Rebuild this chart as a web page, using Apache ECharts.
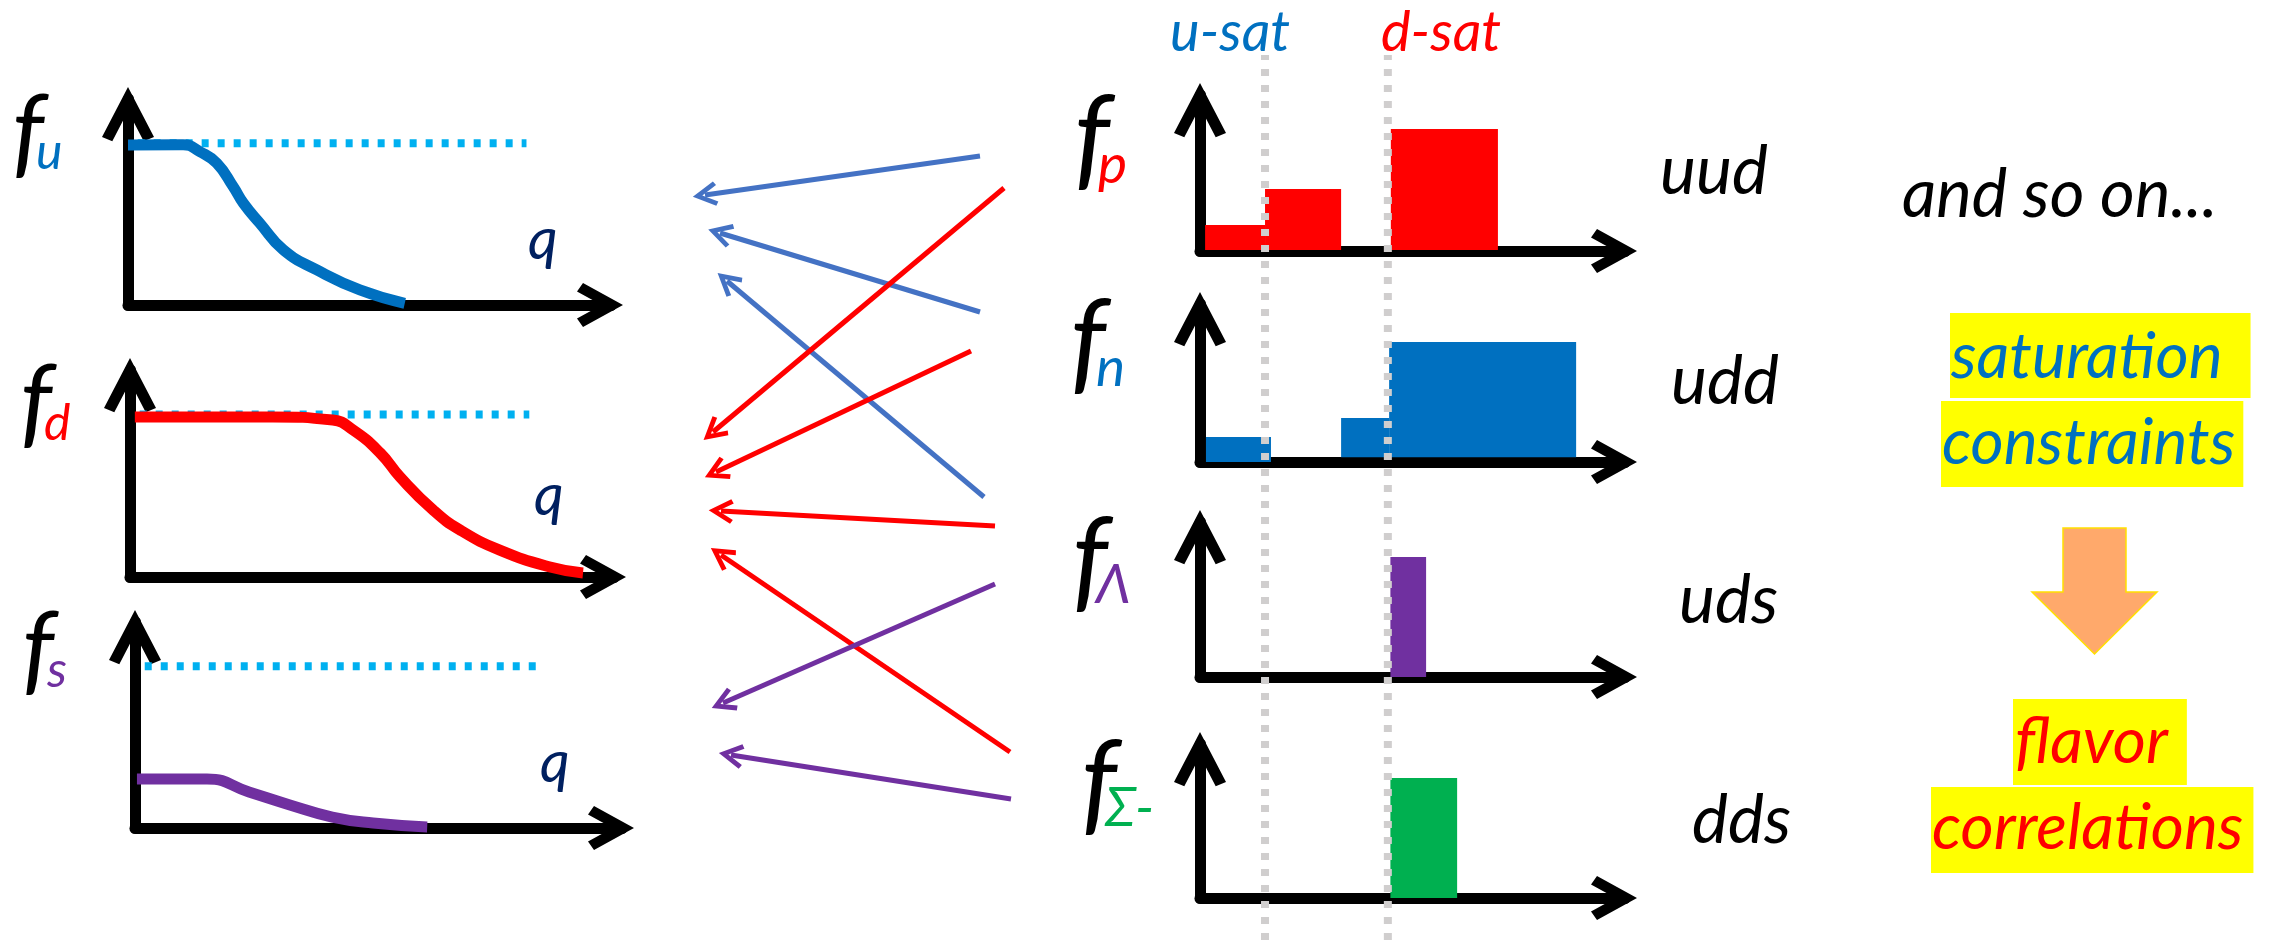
<!DOCTYPE html>
<html>
<head>
<meta charset="utf-8">
<script src="https://cdn.jsdelivr.net/npm/echarts@6/dist/echarts.min.js"></script>
<style>
html, body { margin: 0; padding: 0; background: #fff; }
#chart { width: 2272px; height: 940px; }
</style>
</head>
<body>
<div id="chart"></div>
<script>
// ---- data ----
// left panels: f(q) curves, q in 0..10, f in 0..1 of the panel height
var curveU = [[0, 0.777], [1.14, 0.778], [1.49, 0.744], [1.84, 0.688], [2.18, 0.574], [2.39, 0.494], [2.73, 0.397], [3.22, 0.267], [3.91, 0.17], [4.8, 0.073], [5.73, 0.008]];
var curveD = [[0.1, 0.773], [2.95, 0.773], [4.19, 0.758], [4.61, 0.71], [5.17, 0.599], [5.58, 0.483], [6.26, 0.324], [6.82, 0.227], [7.64, 0.13], [8.68, 0.048], [9.36, 0.019]];
var curveS = [[0.04, 0.238], [1.48, 0.238], [2.34, 0.175], [3.18, 0.112], [4.05, 0.053], [4.89, 0.024], [6.0, 0.005]];
var satLevel = [[0.2, 0.785], [8.25, 0.785]];

// right panels: bars as [from, to, base, height]
var barsP = [[0.12, 1.53, 0.006, 0.167], [1.53, 3.32, 0.006, 0.397], [4.49, 7.01, 0.006, 0.782]];
var barsN = [[0.14, 1.67, 0, 0.158], [3.32, 4.45, 0.03, 0.278], [4.45, 8.85, 0.03, 0.759]];
var barsL = [[4.48, 5.32, 0, 0.774]];
var barsS = [[4.48, 6.05, 0, 0.779]];
var satMarks = [1.53, 4.42]; // u-sat, d-sat

// arrows between the two columns: [fromX, fromY, toX, toY]
var arrowsBlue = [[980, 156, 705, 195], [980, 312, 720, 233], [984, 497, 727, 281]];
var arrowsRed = [[1004, 188, 713, 432], [971, 351, 716, 472], [995, 526, 721, 511], [1010, 752, 721, 555]];
var arrowsPurple = [[995, 584, 723, 703], [1011, 799, 731, 755]];
var bigArrow = [[2094.5, 591]];

var TALL = 'path://M26,0 L52,50 L41.7,54.2 L26,24 L10.3,54.2 L0,50 Z';
var SHORT = 'path://M22,0 L44,40 L35.5,46 L22,21.4 L8.5,46 L0,40 Z';
var THIN = 'path://M13,0 L26,22 L21.7,24.6 L13,9.6 L4.3,24.6 L0,22 Z';
var DOWN = 'path://M31,0 L94,0 L94,64 L125,64 L62.5,126 L0,64 L31,64 Z';

var FONT = 'Lato';
var BLUE = '#0070C0', RED = '#FF0000', PURPLE = '#7030A0', GREEN = '#00B050';

var grids = [
    { left: 128, top: 99, width: 483, height: 206 },
    { left: 130, top: 370, width: 484, height: 207 },
    { left: 135, top: 622, width: 487, height: 206 },
    { left: 1200, top: 95, width: 425, height: 156 },
    { left: 1200, top: 304, width: 425, height: 158 },
    { left: 1200, top: 522, width: 425, height: 155 },
    { left: 1200, top: 744, width: 425, height: 154 },
    { left: 1200, top: 55, width: 425, height: 885 },
    { left: 0, top: 0, width: 2272, height: 940 }
];

var xAxes = [], yAxes = [];
grids.forEach(function (g, i) {
    var panel = i < 7;
    xAxes.push({
        type: 'value', gridIndex: i, min: 0, max: i === 8 ? 2272 : 10,
        axisLine: {
            show: panel,
            lineStyle: { color: '#000', width: 11 },
            symbol: ['none', SHORT], symbolSize: [44, 46], symbolOffset: [0, -11]
        },
        axisTick: { show: false }, axisLabel: { show: false }, splitLine: { show: false }
    });
    yAxes.push({
        type: 'value', gridIndex: i, min: 0, max: i === 8 ? 940 : 1, inverse: i === 8,
        axisLine: {
            show: panel,
            lineStyle: { color: '#000', width: 11 },
            symbol: ['none', TALL], symbolSize: [52, 54.2], symbolOffset: [0, -15.1]
        },
        axisTick: { show: false }, axisLabel: { show: false }, splitLine: { show: false }
    });
});

function dotted (gi) {
    return {
        type: 'line', xAxisIndex: gi, yAxisIndex: gi, data: satLevel, showSymbol: false, silent: true,
        lineStyle: { color: '#00B0F0', width: 8, type: [7, 9] }, z: 2
    };
}
function curve (gi, data, color) {
    return {
        type: 'line', xAxisIndex: gi, yAxisIndex: gi, data: data, showSymbol: false,
        smooth: 0.5, silent: true,
        lineStyle: { color: color, width: 11 }, z: 3
    };
}
function bars (gi, data, color) {
    return {
        type: 'custom', xAxisIndex: gi, yAxisIndex: gi, data: data, silent: true, z: 3,
        encode: { x: [0, 1], y: [2, 3] },
        renderItem: function (params, api) {
            var a = api.coord([api.value(0), api.value(2)]);
            var b = api.coord([api.value(1), api.value(3)]);
            return {
                type: 'rect',
                shape: { x: a[0], y: b[1], width: b[0] - a[0], height: a[1] - b[1] },
                style: { fill: color }
            };
        }
    };
}
function arrows (data, color) {
    return {
        type: 'lines', coordinateSystem: 'cartesian2d', xAxisIndex: 8, yAxisIndex: 8, silent: true,
        symbol: ['none', THIN], symbolSize: [26, 24.6],
        lineStyle: { color: color, width: 5, opacity: 1, curveness: 0 },
        data: data.map(function (a) { return { coords: [[a[0], a[1]], [a[2], a[3]]] }; }),
        z: 3
    };
}

var series = [
    dotted(0), curve(0, curveU, BLUE),
    dotted(1), curve(1, curveD, RED),
    dotted(2), curve(2, curveS, PURPLE),
    bars(3, barsP, RED), bars(4, barsN, BLUE), bars(5, barsL, PURPLE), bars(6, barsS, GREEN),
    arrows(arrowsBlue, '#4472C4'), arrows(arrowsRed, RED), arrows(arrowsPurple, PURPLE),
    {
        type: 'scatter', xAxisIndex: 8, yAxisIndex: 8, data: bigArrow, silent: true,
        symbol: DOWN, symbolSize: [125, 126],
        itemStyle: { color: '#FFA96B', borderColor: '#FFE000', borderWidth: 1.5, opacity: 1 }
    }
];
satMarks.forEach(function (x) {
    series.push({
        type: 'line', xAxisIndex: 7, yAxisIndex: 7, data: [[x, 0], [x, 1]], showSymbol: false, silent: true,
        lineStyle: { color: '#D0CECE', width: 8, type: [7, 9] }, z: 6
    });
});

function label (text, left, top, size, color, extra) {
    var t = {
        text: text, left: left, top: top, padding: 0, itemGap: 0,
        textStyle: {
            fontFamily: FONT, fontStyle: 'italic', fontWeight: 'normal',
            fontSize: size, lineHeight: size, color: color
        }
    };
    if (extra) {
        t.padding = extra.padding;
        t.backgroundColor = extra.bg;
        t.textStyle.lineHeight = extra.lineHeight;
    }
    return t;
}
function mark (text, left, top, color, padding) {
    return label(text, left, top, 64, color, { padding: padding, bg: '#FFFF00', lineHeight: 70 });
}

var titles = [
    label('f', 12, 84, 100, '#000'), label('u', 36, 128, 50, BLUE),
    label('f', 20, 354, 100, '#000'), label('d', 44, 399, 50, RED),
    label('f', 22, 601, 100, '#000'), label('s', 47, 646, 50, PURPLE),
    label('q', 528, 211, 58, '#002060'), label('q', 534, 467, 58, '#002060'), label('q', 540, 734, 58, '#002060'),
    label('f', 1074, 84, 112, '#000'), label('p', 1098, 138, 55, RED),
    label('f', 1070, 288, 112, '#000'), label('n', 1096, 341, 55, BLUE),
    label('f', 1072, 506, 112, '#000'), label('Λ', 1096, 558, 55, PURPLE),
    label('f', 1081, 729, 112, '#000'), label('Σ-', 1105, 781, 55, GREEN),
    label('u-sat', 1170, 5, 56, BLUE), label('d-sat', 1381, 5, 56, RED),
    label('uud', 1660, 138, 68, '#000'), label('udd', 1671, 348, 68, '#000'),
    label('uds', 1679, 567, 68, '#000'), label('dds', 1692, 787, 68, '#000'),
    label('and so on...', 1902, 162, 67, '#000'),
    mark('saturation', 1950, 313, BLUE, [9, 28, 6, 1]),
    mark('constraints', 1941, 401, BLUE, [7, 8, 9, 1]),
    mark('flavor', 2013, 699, RED, [8, 19, 8, 2]),
    mark('correlations', 1931, 787, RED, [6, 10, 10, 1])
];

var chart = echarts.init(document.getElementById('chart'));
chart.setOption({
    backgroundColor: '#fff',
    animation: false,
    title: titles,
    grid: grids,
    xAxis: xAxes,
    yAxis: yAxes,
    series: series
});
</script>
</body>
</html>
